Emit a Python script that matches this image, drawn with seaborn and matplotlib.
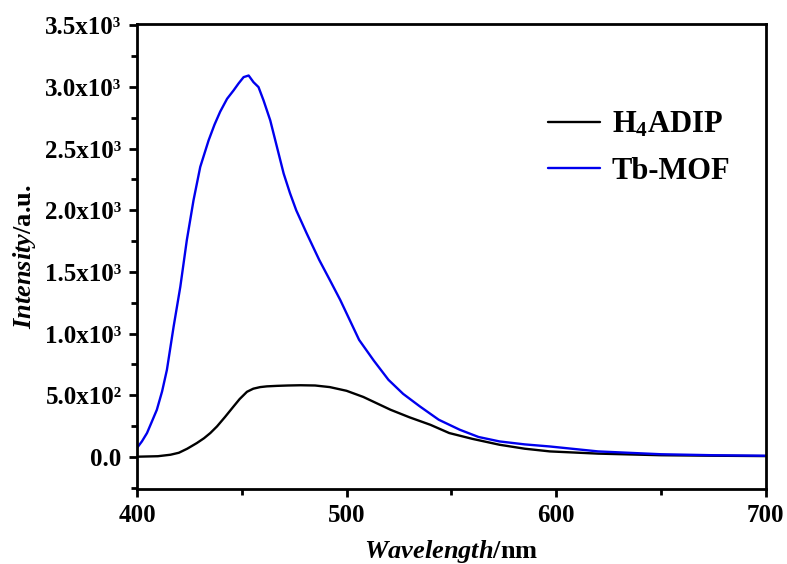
import numpy as np
import pandas as pd
import matplotlib
matplotlib.use("Agg")
import matplotlib.pyplot as plt
import seaborn as sns
from matplotlib.ticker import FixedLocator, MultipleLocator

# ---- data ----
wl_ligand = [400, 410, 416, 420, 424, 428.6, 432, 435, 438.2, 442, 446.1, 449, 452.5, 455.5,
             458.8, 462, 466.8, 472, 478, 485, 492, 500, 508, 516, 521, 530, 540, 549,
             560, 573, 585, 597, 620, 650, 675, 700]
int_ligand = [0, 4, 16, 32, 65, 111, 150, 192, 246, 322, 408, 468, 527, 552,
              565, 571, 575, 578, 580, 578, 565, 535, 485, 421, 381, 320, 259, 192,
              145, 97, 65, 43, 25, 12, 8, 5]

wl_mof = [400, 402.4, 404.8, 407, 409.5, 412, 414.3, 417.5, 420.7, 423.8, 427, 430.2,
          434.2, 437, 439.7, 443, 446.1, 448.5, 450.9, 453.3, 455.6, 458, 460.4, 463.6,
          466.8, 470, 473, 476, 481, 487, 492, 497, 506, 513, 520, 527, 535, 544, 554,
          563, 573, 585, 597, 620, 650, 675, 700]
int_mof = [70, 125, 192, 280, 381, 530, 705, 1056, 1380, 1758, 2082, 2352,
           2568, 2695, 2800, 2905, 2973, 3030, 3081, 3094, 3040, 3000, 2892, 2730,
           2514, 2298, 2140, 2000, 1812, 1596, 1435, 1272, 948, 780, 624, 510, 408, 300, 219,
           160, 124, 100, 83, 43, 20, 12, 8]

series_names = ["H$_4$ADIP", "Tb-MOF"]
series_colors = ["#000000", "#0000ee"]

yticks = [0, 500, 1000, 1500, 2000, 2500, 3000, 3500]
ytick_labels = ["0.0", "5.0x10²", "1.0x10³", "1.5x10³", "2.0x10³",
                "2.5x10³", "3.0x10³", "3.5x10³"]
xticks = [400, 500, 600, 700]

df = pd.concat([
    pd.DataFrame({"Wavelength": wl_ligand, "Intensity": int_ligand, "Sample": series_names[0]}),
    pd.DataFrame({"Wavelength": wl_mof, "Intensity": int_mof, "Sample": series_names[1]}),
], ignore_index=True)

sns.set_theme(style="ticks")
plt.rcParams["font.family"] = ["Liberation Serif", "DejaVu Serif"]
plt.rcParams["font.weight"] = "bold"
plt.rcParams["text.color"] = "black"
plt.rcParams["axes.labelcolor"] = "black"
plt.rcParams["xtick.color"] = "black"
plt.rcParams["ytick.color"] = "black"
plt.rcParams["axes.edgecolor"] = "black"
plt.rcParams["mathtext.fontset"] = "custom"
plt.rcParams["mathtext.rm"] = "Liberation Serif:bold"
plt.rcParams["mathtext.it"] = "Liberation Serif:italic:bold"
plt.rcParams["mathtext.bf"] = "Liberation Serif:bold"

fig = plt.figure(figsize=(7.87, 5.64), dpi=100)
ax = fig.add_axes([0.174, 0.133, 0.799, 0.824])

sns.lineplot(data=df, x="Wavelength", y="Intensity", hue="Sample",
             palette=dict(zip(series_names, series_colors)), linewidth=1.7,
             ax=ax, sort=False, estimator=None)

ax.set_xlim(400, 700)
ax.set_ylim(-262, 3510)
ax.xaxis.set_major_locator(FixedLocator(xticks))
ax.xaxis.set_minor_locator(MultipleLocator(50))
ax.yaxis.set_major_locator(FixedLocator(yticks))
ax.yaxis.set_minor_locator(MultipleLocator(250))
ax.set_yticklabels(ytick_labels)
ax.set_xticklabels([str(t) for t in xticks])

for lab in ax.get_xticklabels() + ax.get_yticklabels():
    lab.set_fontsize(18)
    lab.set_fontweight("bold")
    lab.set_color("black")

ax.tick_params(axis="both", which="major", direction="out", length=6, width=2, pad=5)
ax.tick_params(axis="both", which="minor", direction="out", length=4, width=2)
ax.tick_params(top=False, right=False, which="both")
for sp in ax.spines.values():
    sp.set_linewidth(2)
    sp.set_visible(True)
    sp.set_color("black")

ax.set_xlabel(r"$\mathit{Wavelength}$/nm", fontsize=19, fontweight="bold", labelpad=8)
ax.set_ylabel(r"$\mathit{Intensity}$/a.u.", fontsize=19, fontweight="bold", labelpad=5)

leg = ax.legend(loc="upper left", bbox_to_anchor=(0.634, 0.841), frameon=False,
                fontsize=22, handlelength=1.7, handletextpad=0.4, labelspacing=0.56,
                borderaxespad=0)
for t in leg.get_texts():
    t.set_fontweight("bold")
    t.set_color("black")

fig.savefig("out.png", dpi=100)
